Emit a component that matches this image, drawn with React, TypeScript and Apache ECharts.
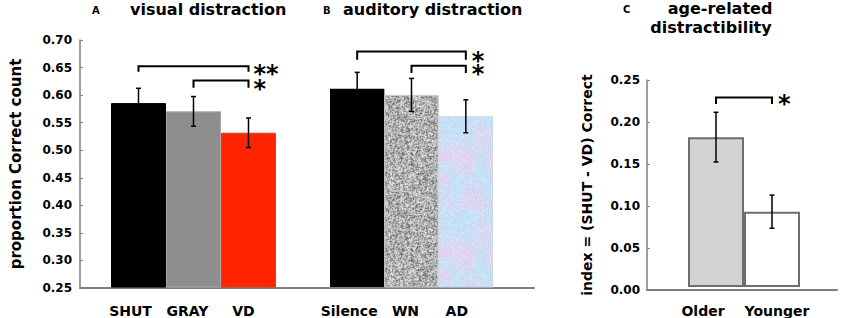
import React, { useEffect, useRef } from 'react';
import * as echarts from 'echarts';

// ---- data ----
const catsA = ['SHUT', 'GRAY', 'VD'];
const valsA = [0.585, 0.570, 0.531];
const errA = [0.027, 0.027, 0.027];

const catsB = ['Silence', 'WN', 'AD'];
const valsB = [0.611, 0.600, 0.561];
const errB = [0.030, 0.030, 0.030];

const catsC = ['Older', 'Younger'];
const valsC = [0.181, 0.091];
const errC = [0.030, 0.020];

// [fromCategory, toCategory, topValue, bottomValue]
const bracketsA = [[0, 2, 0.652, 0.642], [1, 2, 0.626, 0.613]];
const bracketsB = [[0, 2, 0.679, 0.664], [1, 2, 0.653, 0.640]];
const bracketsC = [[0, 1, 0.229, 0.221]];
// significance marks, one text per panel (one line per bracket)
const starsA = '**\n*';
const starsB = '*\n*';
const starsC = '*';

const axisAB = { min: 0.25, max: 0.70, interval: 0.05 };
const axisC = { min: 0, max: 0.25, interval: 0.05 };

const FONT = 'DejaVu Sans, Verdana, sans-serif';
const AXIS_GRAY = '#7f7f7f';

// deterministic texture generator (styling only)
function prng(seed: number) {
  let s = seed >>> 0;
  return () => {
    s = (s + 0x6d2b79f5) >>> 0;
    let t = s;
    t = Math.imul(t ^ (t >>> 15), t | 1);
    t ^= t + Math.imul(t ^ (t >>> 7), t | 61);
    return ((t ^ (t >>> 14)) >>> 0) / 4294967296;
  };
}

function noiseCanvas(): HTMLCanvasElement {
  const N = 96;
  const c = document.createElement('canvas');
  c.width = N; c.height = N;
  const ctx = c.getContext('2d')!;
  const img = ctx.createImageData(N, N);
  const r = prng(12345);
  const raw: number[] = [];
  for (let i = 0; i < N * N; i++) raw.push(232 - 155 * Math.pow(r(), 1.7));
  const at = (x: number, y: number) => raw[((y + N) % N) * N + ((x + N) % N)];
  for (let y = 0; y < N; y++) {
    for (let x = 0; x < N; x++) {
      const avg = (at(x - 1, y) + at(x + 1, y) + at(x, y - 1) + at(x, y + 1)) / 4;
      const v = Math.round(0.55 * at(x, y) + 0.45 * avg);
      const i = (y * N + x) * 4;
      img.data[i] = v; img.data[i + 1] = v; img.data[i + 2] = v; img.data[i + 3] = 255;
    }
  }
  ctx.putImageData(img, 0, 0);
  return c;
}

function pastelCanvas(): HTMLCanvasElement {
  const N = 96, G = 12, cells = N / G;
  const c = document.createElement('canvas');
  c.width = N; c.height = N;
  const ctx = c.getContext('2d')!;
  const img = ctx.createImageData(N, N);
  const r = prng(777);
  const grid: number[] = [];
  for (let i = 0; i < cells * cells; i++) grid.push(r());
  const g = (x: number, y: number) => grid[((y % cells) * cells) + (x % cells)];
  for (let y = 0; y < N; y++) {
    for (let x = 0; x < N; x++) {
      const gx = Math.floor(x / G), gy = Math.floor(y / G);
      const fx = (x % G) / G, fy = (y % G) / G;
      const sx = fx * fx * (3 - 2 * fx), sy = fy * fy * (3 - 2 * fy);
      const a = g(gx, gy) * (1 - sx) + g(gx + 1, gy) * sx;
      const b = g(gx, gy + 1) * (1 - sx) + g(gx + 1, gy + 1) * sx;
      const t = Math.max(0, Math.min(1, (a * (1 - sy) + b * sy - 0.3) * 1.3));
      const n = (r() - 0.5) * 16;
      const i = (y * N + x) * 4;
      img.data[i] = Math.round(198 + 34 * t + n);
      img.data[i + 1] = Math.round(225 - 17 * t + n);
      img.data[i + 2] = Math.round(246 - 6 * t + n * 0.5);
      img.data[i + 3] = 255;
    }
  }
  ctx.putImageData(img, 0, 0);
  return c;
}

function errorBarItem(params: any, api: any) {
  const x = api.value(0), v = api.value(1), e = api.value(2);
  const top = api.coord([x, v + e]);
  const bot = api.coord([x, v - e]);
  const w = 2.5;
  const style = { stroke: '#000', lineWidth: 1.5 };
  return {
    type: 'group',
    children: [
      { type: 'line', shape: { x1: top[0], y1: top[1], x2: bot[0], y2: bot[1] }, style },
      { type: 'line', shape: { x1: top[0] - w, y1: top[1], x2: top[0] + w, y2: top[1] }, style },
      { type: 'line', shape: { x1: bot[0] - w, y1: bot[1], x2: bot[0] + w, y2: bot[1] }, style },
    ],
  };
}

function bracketRenderer(stars: string, lineH: number, dx: number, dy: number) {
  return (params: any, api: any) => {
    const a = api.value(0), b = api.value(1), t = api.value(2), bt = api.value(3);
    const p1 = api.coord([a, bt]);
    const p2 = api.coord([a, t]);
    const p3 = api.coord([b, t]);
    const p4 = api.coord([b, bt]);
    const children: any[] = [
      {
        type: 'polyline',
        shape: { points: [p1, p2, p3, p4] },
        style: { stroke: '#000', lineWidth: 2, fill: 'none' },
      },
    ];
    if (params.dataIndex === 0) {
      children.push({
        type: 'text',
        x: p3[0] + dx,
        y: p3[1] + 7.5 + dy - lineH / 2,
        style: {
          text: stars,
          fontSize: 24,
          lineHeight: lineH,
          fontWeight: 'bold',
          fontFamily: FONT,
          fill: '#000',
          align: 'left',
          verticalAlign: 'top',
        },
      });
    }
    return { type: 'group', children };
  };
}

function labelItems(cats: string[], pads: number[][]) {
  return cats.map((c, i) => ({ value: c, textStyle: { padding: pads[i] } }));
}

export default function App() {
  const ref = useRef<HTMLDivElement>(null);
  useEffect(() => {
    document.body.style.margin = '0';
    const chart = echarts.init(ref.current!, null, { renderer: 'svg' });
    const wn = noiseCanvas();
    const ad = pastelCanvas();

    const yLabel = {
      fontSize: 12, fontWeight: 'bold', fontFamily: FONT, color: '#000', margin: 8,
      formatter: (v: number) => v.toFixed(2),
    };
    const xLabel = { fontSize: 14, fontWeight: 'bold', fontFamily: FONT, color: '#000', margin: 17, interval: 0, hideOverlap: false };
    const axisLineStyle = { show: true, lineStyle: { color: AXIS_GRAY, width: 1.5 } };
    const hiddenX = (cats: any, gi: number) => ({
      type: 'category', gridIndex: gi, data: cats,
      axisLine: { show: false }, axisTick: { show: false },
      axisLabel: xLabel,
    });

    const option: any = {
      animation: false,
      backgroundColor: '#fff',
      grid: [
        { left: 70, top: 40, width: 464, height: 248 },   // 0 axis A/B
        { left: 111, top: 40, width: 165, height: 248 },  // 1 bars A
        { left: 330, top: 40, width: 163, height: 248 },  // 2 bars B
        { left: 647, top: 80, width: 190, height: 210 },  // 3 axis C
        { left: 688, top: 80, width: 112, height: 210 },  // 4 bars C
      ],
      xAxis: [
        { type: 'category', gridIndex: 0, data: [''], axisLine: { show: true, lineStyle: { color: AXIS_GRAY, width: 2 } }, axisTick: { show: false }, axisLabel: { show: false } },
        hiddenX(labelItems(catsA, [[0, 16, 0, 0], [0, 12, 0, 0], [0, 10, 0, 0]]), 1),
        hiddenX(labelItems(catsB, [[0, 16, 0, 0], [0, 12, 0, 0], [0, 18, 0, 0]]), 2),
        { type: 'category', gridIndex: 3, data: [''], axisLine: { show: true, lineStyle: { color: AXIS_GRAY, width: 2 } }, axisTick: { show: false }, axisLabel: { show: false } },
        hiddenX(labelItems(catsC, [[0, 26, 0, 0], [0, 0, 0, 10]]), 4),
      ],
      yAxis: [
        {
          type: 'value', gridIndex: 0, ...axisAB,
          axisLine: axisLineStyle,
          axisTick: { show: true, inside: true, length: 3, lineStyle: { color: AXIS_GRAY, width: 1 } },
          splitLine: { show: false },
          axisLabel: yLabel,
          name: 'proportion Correct count', nameLocation: 'middle', nameGap: 57,
          nameTextStyle: { fontSize: 15, fontWeight: 'bold', fontFamily: FONT, color: '#000' },
        },
        { type: 'value', gridIndex: 1, ...axisAB, show: false },
        { type: 'value', gridIndex: 2, ...axisAB, show: false },
        {
          type: 'value', gridIndex: 3, ...axisC,
          axisLine: axisLineStyle,
          axisTick: { show: true, inside: true, length: 3, lineStyle: { color: AXIS_GRAY, width: 1 } },
          splitLine: { show: false },
          axisLabel: { ...yLabel, margin: 7 },
          name: 'index = (SHUT - VD) Correct', nameLocation: 'middle', nameGap: 53,
          nameTextStyle: { fontSize: 14, fontWeight: 'bold', fontFamily: FONT, color: '#000' },
        },
        { type: 'value', gridIndex: 4, ...axisC, show: false },
      ],
      series: [
        {
          type: 'bar', xAxisIndex: 1, yAxisIndex: 1, barWidth: '100%',
          data: [
            { value: valsA[0], itemStyle: { color: '#000', borderColor: '#000', borderWidth: 1 } },
            { value: valsA[1], itemStyle: { color: '#8e8e8e', borderColor: '#a8a8a8', borderWidth: 1 } },
            { value: valsA[2], itemStyle: { color: '#ff2500', borderColor: '#e83a1a', borderWidth: 1 } },
          ],
        },
        {
          type: 'bar', xAxisIndex: 2, yAxisIndex: 2, barWidth: '100%',
          data: [
            { value: valsB[0], itemStyle: { color: '#000' } },
            { value: valsB[1], itemStyle: { color: { image: wn, repeat: 'repeat' }, borderColor: '#c8c8c8', borderWidth: 1 } },
            { value: valsB[2], itemStyle: { color: { image: ad, repeat: 'repeat' }, borderColor: '#c8d8ea', borderWidth: 1 } },
          ],
        },
        {
          type: 'bar', xAxisIndex: 4, yAxisIndex: 4, barWidth: '100%',
          data: [
            { value: valsC[0], itemStyle: { color: '#d3d3d3', borderColor: '#6e6e6e', borderWidth: 2 } },
            { value: valsC[1], itemStyle: { color: '#ffffff', borderColor: '#6e6e6e', borderWidth: 2 } },
          ],
        },
        {
          type: 'custom', xAxisIndex: 1, yAxisIndex: 1, renderItem: errorBarItem,
          data: valsA.map((v, i) => [i, v, errA[i]]), z: 5,
        },
        {
          type: 'custom', xAxisIndex: 2, yAxisIndex: 2, renderItem: errorBarItem,
          data: valsB.map((v, i) => [i, v, errB[i]]), z: 5,
        },
        {
          type: 'custom', xAxisIndex: 4, yAxisIndex: 4, renderItem: errorBarItem,
          data: valsC.map((v, i) => [i, v, errC[i]]), z: 5,
        },
        { type: 'custom', xAxisIndex: 1, yAxisIndex: 1, renderItem: bracketRenderer(starsA, 15, 5, 0), data: bracketsA, z: 6 },
        { type: 'custom', xAxisIndex: 2, yAxisIndex: 2, renderItem: bracketRenderer(starsB, 13, 6, 2), data: bracketsB, z: 6 },
        { type: 'custom', xAxisIndex: 4, yAxisIndex: 4, renderItem: bracketRenderer(starsC, 24, 6, -1), data: bracketsC, z: 6 },
      ],
      graphic: [
        { type: 'text', left: 92, top: 5, style: { text: 'A', fontSize: 10, fontWeight: 'bold', fontFamily: FONT, fill: '#000' } },
        { type: 'text', left: 130, top: 1, style: { text: 'visual distraction', fontSize: 16, fontWeight: 'bold', fontFamily: FONT, fill: '#000' } },
        { type: 'text', left: 323, top: 5, style: { text: 'B', fontSize: 10, fontWeight: 'bold', fontFamily: FONT, fill: '#000' } },
        { type: 'text', left: 343, top: 1, style: { text: 'auditory distraction', fontSize: 16, fontWeight: 'bold', fontFamily: FONT, fill: '#000' } },
        { type: 'text', left: 623, top: 4, style: { text: 'C', fontSize: 10, fontWeight: 'bold', fontFamily: FONT, fill: '#000' } },
        { type: 'text', x: 720, y: 0, style: { text: 'age-related', fontSize: 16, fontWeight: 'bold', fontFamily: FONT, fill: '#000', align: 'center', verticalAlign: 'top' } },
        { type: 'text', x: 711, y: 19, style: { text: 'distractibility', fontSize: 16, fontWeight: 'bold', fontFamily: FONT, fill: '#000', align: 'center', verticalAlign: 'top' } },
      ],
    };
    chart.setOption(option);
    return () => chart.dispose();
  }, []);
  return <div ref={ref} style={{ width: 843, height: 318 }} />;
}
